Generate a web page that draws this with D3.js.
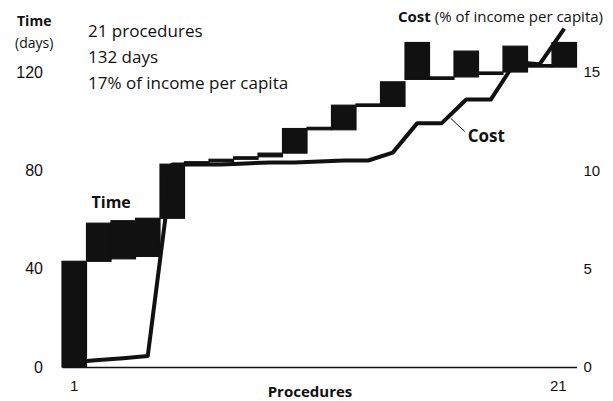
<!DOCTYPE html>
<html>
<head>
<meta charset="utf-8">
<script src="https://cdn.jsdelivr.net/npm/d3@7"></script>
<style>
  body { margin: 0; background: #fff; }
  svg { display: block; font-family: "Open Sans", "Noto Sans", sans-serif; }
</style>
</head>
<body>
<figure id="chart" style="margin:0"></figure>
<script>
// Data

const procedures = [1, 2, 3, 4, 5, 6, 7, 8, 9, 10, 11, 12, 13, 14, 15, 16, 17, 18, 19, 20, 21];
// start / end of each procedure, in days
const timeStart = [0, 43, 44, 45, 60.5, 82.5, 83.5, 84.5, 85.5, 87, 96.5, 96.5, 106, 106, 117, 117, 118, 119, 120, 122, 122];
const timeEnd = [43, 58.5, 59.5, 60.5, 82.5, 83.5, 84.5, 85.5, 87, 97, 97.5, 106.5, 107, 116, 132, 118, 128.5, 120, 130.5, 123, 132];
// cumulative cost, % of income per capita
const cost = [0.25, 0.35, 0.45, 0.56, 10.3, 10.3, 10.3, 10.35, 10.4, 10.4, 10.45, 10.5, 10.5, 10.9, 12.4, 12.4, 13.6, 13.6, 15.5, 15.4, 17.2];

const timeTicks = [0, 40, 80, 120];
const costTicks = [0, 5, 10, 15];
const procTicks = [1, 21];
const summary = ["21 procedures", "132 days", "17% of income per capita"];

const width = 613;
const height = 401;
const ink = "#111";

const svg = d3.select("#chart")
  .append("svg")
  .attr("width", width)
  .attr("height", height);

// Scales

const x = d3.scaleBand()
  .domain(procedures)
  .range([62, 576.5])
  .padding(0);

const yTime = d3.scaleLinear()
  .domain([0, 120])
  .range([367, 72]);

const yCost = d3.scaleLinear()
  .domain([0, 15])
  .range([367, 72]);

// Axes

const xAxis = svg.append("g")
  .attr("transform", "translate(0," + yTime(0) + ")")
  .call(d3.axisBottom(x).tickValues(procTicks).tickSize(0).tickPadding(13));
xAxis.select(".domain").attr("stroke", ink).attr("stroke-width", 1.5);
xAxis.selectAll("text").attr("font-size", 15).attr("fill", ink)
  .attr("dx", (d) => d === 21 ? -6 : 0);

const leftAxis = svg.append("g")
  .attr("transform", "translate(" + x.range()[0] + ",0)")
  .call(d3.axisLeft(yTime).tickValues(timeTicks).tickSize(0).tickPadding(19));
leftAxis.select(".domain").remove();
leftAxis.selectAll("text").attr("font-size", 16).attr("fill", ink);

const rightAxis = svg.append("g")
  .attr("transform", "translate(" + x.range()[1] + ",0)")
  .call(d3.axisRight(yCost).tickValues(costTicks).tickSize(0).tickPadding(7));
rightAxis.select(".domain").remove();
rightAxis.selectAll("text").attr("font-size", 15).attr("fill", ink);

// Time blocks

svg.append("g")
  .selectAll("rect")
  .data(procedures)
  .join("rect")
  .attr("x", (d) => x(d))
  .attr("y", (d, i) => yTime(timeEnd[i]))
  .attr("width", x.bandwidth())
  .attr("height", (d, i) => yTime(timeStart[i]) - yTime(timeEnd[i]))
  .attr("fill", ink)
  .attr("stroke", ink)
  .attr("stroke-width", 1.2);

// Cost line

const costLine = d3.line()
  .x((d) => x(d) + x.bandwidth() / 2)
  .y((d, i) => yCost(cost[i]));

svg.append("path")
  .datum(procedures)
  .attr("d", costLine)
  .attr("fill", "none")
  .attr("stroke", ink)
  .attr("stroke-width", 4)
  .attr("stroke-linejoin", "round");

// Labels

svg.append("text")
  .attr("x", 17).attr("y", 26)
  .attr("font-size", 14).attr("font-weight", "bold").attr("fill", ink)
  .text("Time");
svg.append("text")
  .attr("x", 15).attr("y", 48)
  .attr("font-size", 14).attr("fill", ink)
  .text("(days)");

svg.append("g")
  .selectAll("text")
  .data(summary)
  .join("text")
  .attr("x", 88)
  .attr("y", (d, i) => 37 + i * 26)
  .attr("font-size", 17)
  .attr("fill", ink)
  .text((d) => d);

const costTitle = svg.append("text")
  .attr("x", 398).attr("y", 22)
  .attr("font-size", 15).attr("fill", ink);
costTitle.append("tspan").attr("font-weight", "bold").text("Cost");
costTitle.append("tspan").text(" (% of income per capita)");

svg.append("text")
  .attr("x", x(2) + 5).attr("y", yTime(timeEnd[1]) - 15)
  .attr("font-size", 16).attr("font-weight", "bold").attr("fill", ink)
  .text("Time");

// "Cost" callout with leader line
const lx = x(16) + x.bandwidth() / 2 + 9;
const ly = yCost(cost[15] + (cost[16] - cost[15]) * 9 / x.bandwidth()) + 4;
svg.append("line")
  .attr("x1", lx).attr("y1", ly)
  .attr("x2", lx + 14).attr("y2", ly + 13)
  .attr("stroke", ink).attr("stroke-width", 1);
svg.append("text")
  .attr("x", lx + 17).attr("y", ly + 24)
  .attr("font-size", 17).attr("font-weight", "bold").attr("fill", ink)
  .text("Cost");

svg.append("text")
  .attr("x", 310).attr("y", 397)
  .attr("text-anchor", "middle")
  .attr("font-size", 15).attr("font-weight", "bold").attr("fill", ink)
  .text("Procedures");
</script>
</body>
</html>
